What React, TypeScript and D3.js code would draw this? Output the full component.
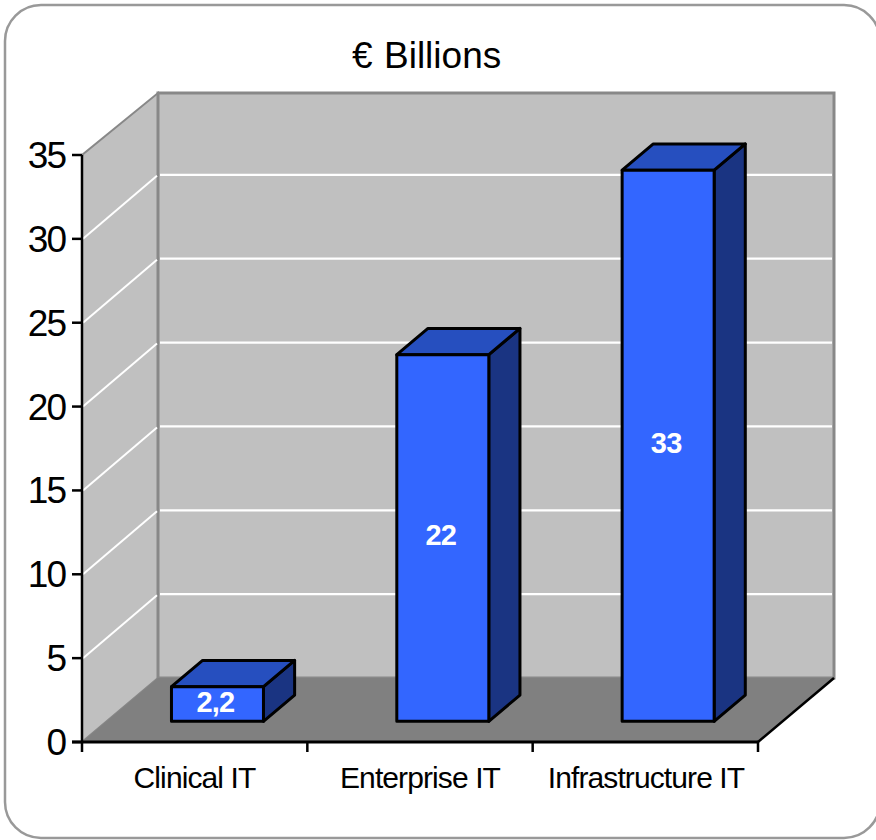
import React from "react";
import * as d3 from "d3";

const categories = ["Clinical IT", "Enterprise IT", "Infrastructure IT"];
const values = [2.2, 22, 33];
const valueLabels = ["2,2", "22", "33"];
const yTicks = [0, 5, 10, 15, 20, 25, 30, 35];
const titleSymbol = "€";
const titleText = "Billions";

const W = 876, H = 840;
const FONT = "'Liberation Sans', Arial, sans-serif";
const front = { x0: 82, x1: 758, y0: 742, y1: 155 };
const depth = { dx: 76, dy: 64 };
const yScale = d3.scaleLinear().domain([0, 35]).range([front.y0, front.y1]);
const xScale = d3.scaleBand<string>().domain(categories).range([front.x0, front.x1]);
const barW = 92;
const barStart = 0.3, barDepth = 0.41;

const poly = (pts: [number, number][]) => d3.line()(pts) + "Z";

export default function App() {
  const bw = xScale.bandwidth();
  const bx = front.x0 + depth.dx, tilt = depth.dy;
  const backY = (v: number) => yScale(v) - tilt;
  const wallTop = backY(35) + 2;
  return (
    <svg width={W} height={H} style={{ position: "absolute", left: 0, top: 0, background: "#fff" }}>
      <rect x={5} y={5} width={875} height={833} rx={36} fill="#fff" stroke="#999" strokeWidth={2.5} />
      <text x={352} y={68} fontFamily={FONT} fontSize={37} fill="#000">{titleSymbol}</text>
      <text x={384} y={68} fontFamily={FONT} fontSize={37} fill="#000">{titleText}</text>

      {/* walls */}
      <path d={poly([[front.x0, yScale(0)], [bx, backY(0)], [bx, wallTop], [front.x0, yScale(35)]])} fill="#c0c0c0" stroke="#888" strokeWidth={2} />
      <rect x={bx} y={wallTop} width={front.x1 - front.x0} height={backY(0) - wallTop} fill="#c0c0c0" stroke="#888" strokeWidth={3} />
      <path d={poly([[front.x0, yScale(0)], [bx, backY(0)], [front.x1 + depth.dx, backY(0)], [front.x1, yScale(0)]])} fill="#808080" />

      {/* grid */}
      {yTicks.filter(t => t > 0 && t < 35).map(t => (
        <g key={t} stroke="#fff" fill="none">
          <line x1={front.x0 + 1} y1={yScale(t)} x2={bx - 1} y2={backY(t) + 1} strokeWidth={2} />
          <line x1={bx + 2} y1={backY(t)} x2={front.x1 + depth.dx - 2} y2={backY(t)} strokeWidth={2.2} />
        </g>
      ))}

      {/* bars */}
      {categories.map((c, i) => {
        const cx = xScale(c)! + bw / 2 + depth.dx * barStart;
        const l = cx - barW / 2, r = cx + barW / 2;
        const b = yScale(0) - tilt * barStart - 1.5;
        const t = yScale(values[i]) - tilt * barStart + 0.8;
        const dx = depth.dx * barDepth, dy = tilt * barDepth;
        return (
          <g key={c} stroke="#000" strokeWidth={3} strokeLinejoin="round">
            <path d={poly([[r, t], [r + dx, t - dy], [r + dx, b - dy], [r, b]])} fill="#1a3482" />
            <path d={poly([[l, t], [l + dx, t - dy], [r + dx, t - dy], [r, t]])} fill="#264fbf" />
            <rect x={l} y={t} width={barW} height={b - t} fill="#3366ff" />
            <text x={cx - 2} y={(t + b) / 2 + 7.5} textAnchor="middle" fontFamily={FONT} fontWeight="bold" fontSize={29} letterSpacing={-0.8} fill="#fff" stroke="none">{valueLabels[i]}</text>
          </g>
        );
      })}

      {/* axes */}
      <line x1={front.x0} y1={yScale(35)} x2={front.x0} y2={yScale(0) + 10} stroke="#000" strokeWidth={2.5} />
      <line x1={front.x0 - 10} y1={yScale(0)} x2={front.x1} y2={yScale(0)} stroke="#000" strokeWidth={3} />
      <line x1={front.x1} y1={yScale(0)} x2={front.x1 + depth.dx} y2={backY(0)} stroke="#000" strokeWidth={2.5} />
      {yTicks.map(t => (
        <g key={t}>
          <line x1={front.x0 - 10} y1={yScale(t)} x2={front.x0} y2={yScale(t)} stroke="#000" strokeWidth={2.5} />
          <text x={65} y={yScale(t) + 13} textAnchor="end" fontFamily={FONT} fontSize={37} letterSpacing={-2} fill="#000">{t}</text>
        </g>
      ))}
      {categories.map((c, i) => (
        <g key={c}>
          <line x1={xScale(c)! + bw} y1={yScale(0)} x2={xScale(c)! + bw} y2={yScale(0) + 10} stroke="#000" strokeWidth={2.5} />
          <text x={[194.5, 420, 646][i]} y={788} textAnchor="middle" fontFamily={FONT} fontSize={30} letterSpacing={-0.9} fill="#000">{c}</text>
        </g>
      ))}
    </svg>
  );
}
